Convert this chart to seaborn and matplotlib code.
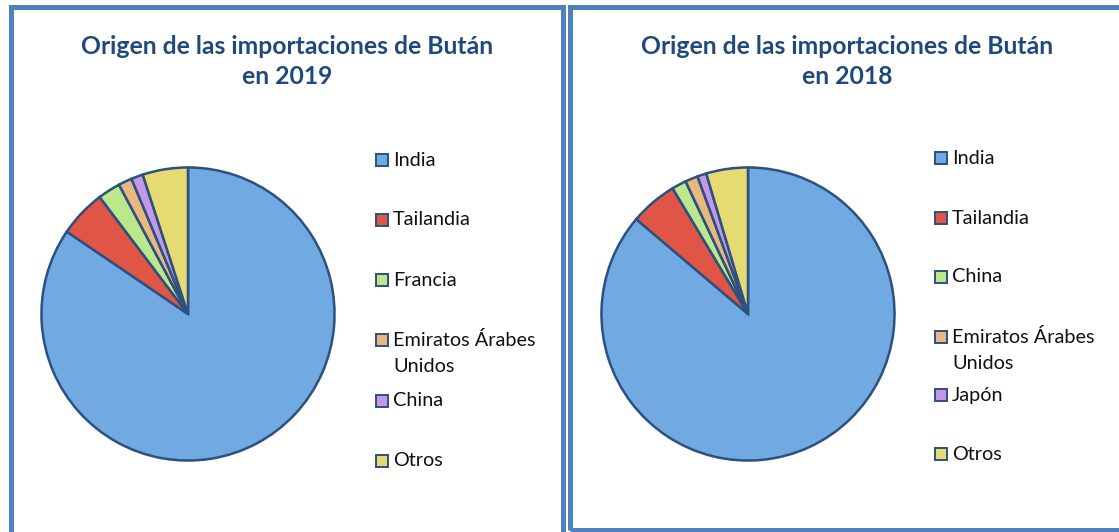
import matplotlib
matplotlib.use("Agg")
import matplotlib.pyplot as plt
from matplotlib.patches import Rectangle
import seaborn as sns

sns.set_theme(style="white")
plt.rcParams['font.family'] = ['Lato', 'DejaVu Sans']

# datos (porcentaje aproximado)
paises_2019 = ["India", "Tailandia", "Francia", "Emiratos Árabes\nUnidos", "China", "Otros"]
valores_2019 = [84.5, 5.2, 2.5, 1.5, 1.3, 5.0]
paises_2018 = ["India", "Tailandia", "China", "Emiratos Árabes\nUnidos", "Japón", "Otros"]
valores_2018 = [86.2, 5.2, 1.6, 1.4, 1.0, 4.6]
titulos = ["Origen de las importaciones de Bután\nen 2019",
           "Origen de las importaciones de Bután\nen 2018"]

colores = ["#71A9E2", "#E05546", "#BDE78B", "#E7B97F", "#C598E7", "#E6DA72"]
borde = "#2B5180"
marco = "#4F81BD"

W, H = 1119, 532
fig = plt.figure(figsize=(W / 100, H / 100), dpi=100)

def fx(px):
    return px / W

def fy(py):
    return 1 - py / H

# marcos de los dos paneles
fig.patches.append(Rectangle((fx(10.5), fy(540)), fx(552), fy(7) - fy(540),
                             transform=fig.transFigure, fill=False,
                             edgecolor=marco, lw=3.6))
fig.patches.append(Rectangle((fx(570), fy(530)), fx(560), fy(6.5) - fy(530),
                             transform=fig.transFigure, fill=False,
                             edgecolor=marco, lw=3.6))

paneles = [(paises_2019, valores_2019, 188, 287, 376,
            [160, 220, 280, 340, 401, 461]),
           (paises_2018, valores_2018, 748, 847, 935,
            [158, 218, 277, 337, 395, 454])]

for i, (paises, valores, cx, tx, lx, filas) in enumerate(paneles):
    r = 148
    ax = fig.add_axes([fx(cx - r), fy(314 + r), fx(2 * r), fy(314 - r) - fy(314 + r)])
    ax.pie(valores, colors=colores, startangle=90, counterclock=False,
           radius=1, wedgeprops=dict(edgecolor=borde, linewidth=1.8))
    ax.set_xlim(-1.01, 1.01)
    ax.set_ylim(-1.01, 1.01)
    ax.set_aspect("equal")
    ax.axis("off")

    fig.text(fx(tx), fy(61.5), titulos[i], ha="center", va="center",
             fontsize=17.8, fontweight="bold", color="#1F497D", linespacing=1.35)

    for nombre, color, y in zip(paises, colores, filas):
        fig.patches.append(Rectangle((fx(lx), fy(y + 6)), fx(12), fy(y - 6) - fy(y + 6),
                                     transform=fig.transFigure, facecolor=color,
                                     edgecolor=borde, lw=1.4))
        if "\n" in nombre:
            fig.text(fx(lx + 17), fy(y - 9), nombre, ha="left", va="top",
                     fontsize=14.3, color="#111111", linespacing=1.65)
        else:
            fig.text(fx(lx + 17), fy(y), nombre, ha="left", va="center",
                     fontsize=14.3, color="#111111")

fig.savefig("out.png", dpi=100)
